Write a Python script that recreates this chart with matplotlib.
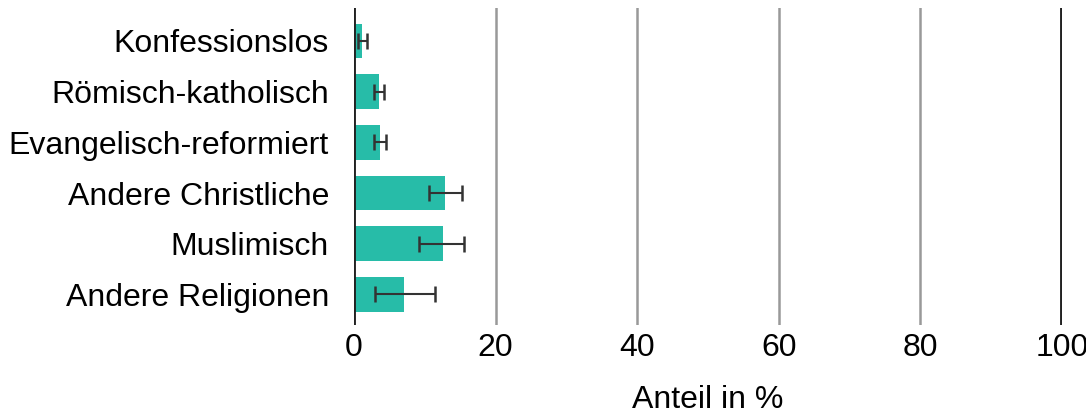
import numpy as np
import matplotlib.pyplot as plt

plt.rcParams["font.family"] = ["Liberation Sans", "DejaVu Sans"]

categories = ["Konfessionslos", "Römisch-katholisch", "Evangelisch-reformiert",
              "Andere Christliche", "Muslimisch", "Andere Religionen"]
values = [1.1, 3.5, 3.7, 12.9, 12.5, 7.1]
ci_low = [0.5, 2.8, 2.8, 10.6, 9.2, 2.9]
ci_high = [1.8, 4.2, 4.5, 15.2, 15.5, 11.4]

fig = plt.figure(figsize=(10.86, 4.17), dpi=100)
ax = fig.add_axes([0.326, 0.221, 0.652, 0.76])

y = np.arange(len(categories))
ax.barh(y, values, height=0.68, color="#27bca8", zorder=2)

mid = (np.array(ci_low) + np.array(ci_high)) / 2
err = (np.array(ci_high) - np.array(ci_low)) / 2
ax.errorbar(mid, y, xerr=err, fmt="none", ecolor="#333333",
            elinewidth=1.5, capsize=6, capthick=1.8, zorder=3)

for v in [20, 40, 60, 80]:
    ax.axvline(v, color="#999999", linewidth=1.8, zorder=1)
ax.axvline(0, color="#222222", linewidth=2.8, zorder=4)
ax.axvline(100, color="#222222", linewidth=2.8, zorder=4)

ax.set_xlim(0, 100)
ax.set_ylim(5.6, -0.65)
ax.set_yticks(y)
ax.set_yticklabels(categories, fontsize=23)
ax.set_xticks([0, 20, 40, 60, 80, 100])
ax.set_xticklabels(["0", "20", "40", "60", "80", "100"], fontsize=23)
ax.tick_params(length=0, pad=6)
ax.tick_params(axis="y", pad=18)
ax.set_xlabel("Anteil in %", fontsize=23, labelpad=16)
for s in ax.spines.values():
    s.set_visible(False)

fig.savefig("out.png", dpi=100)
